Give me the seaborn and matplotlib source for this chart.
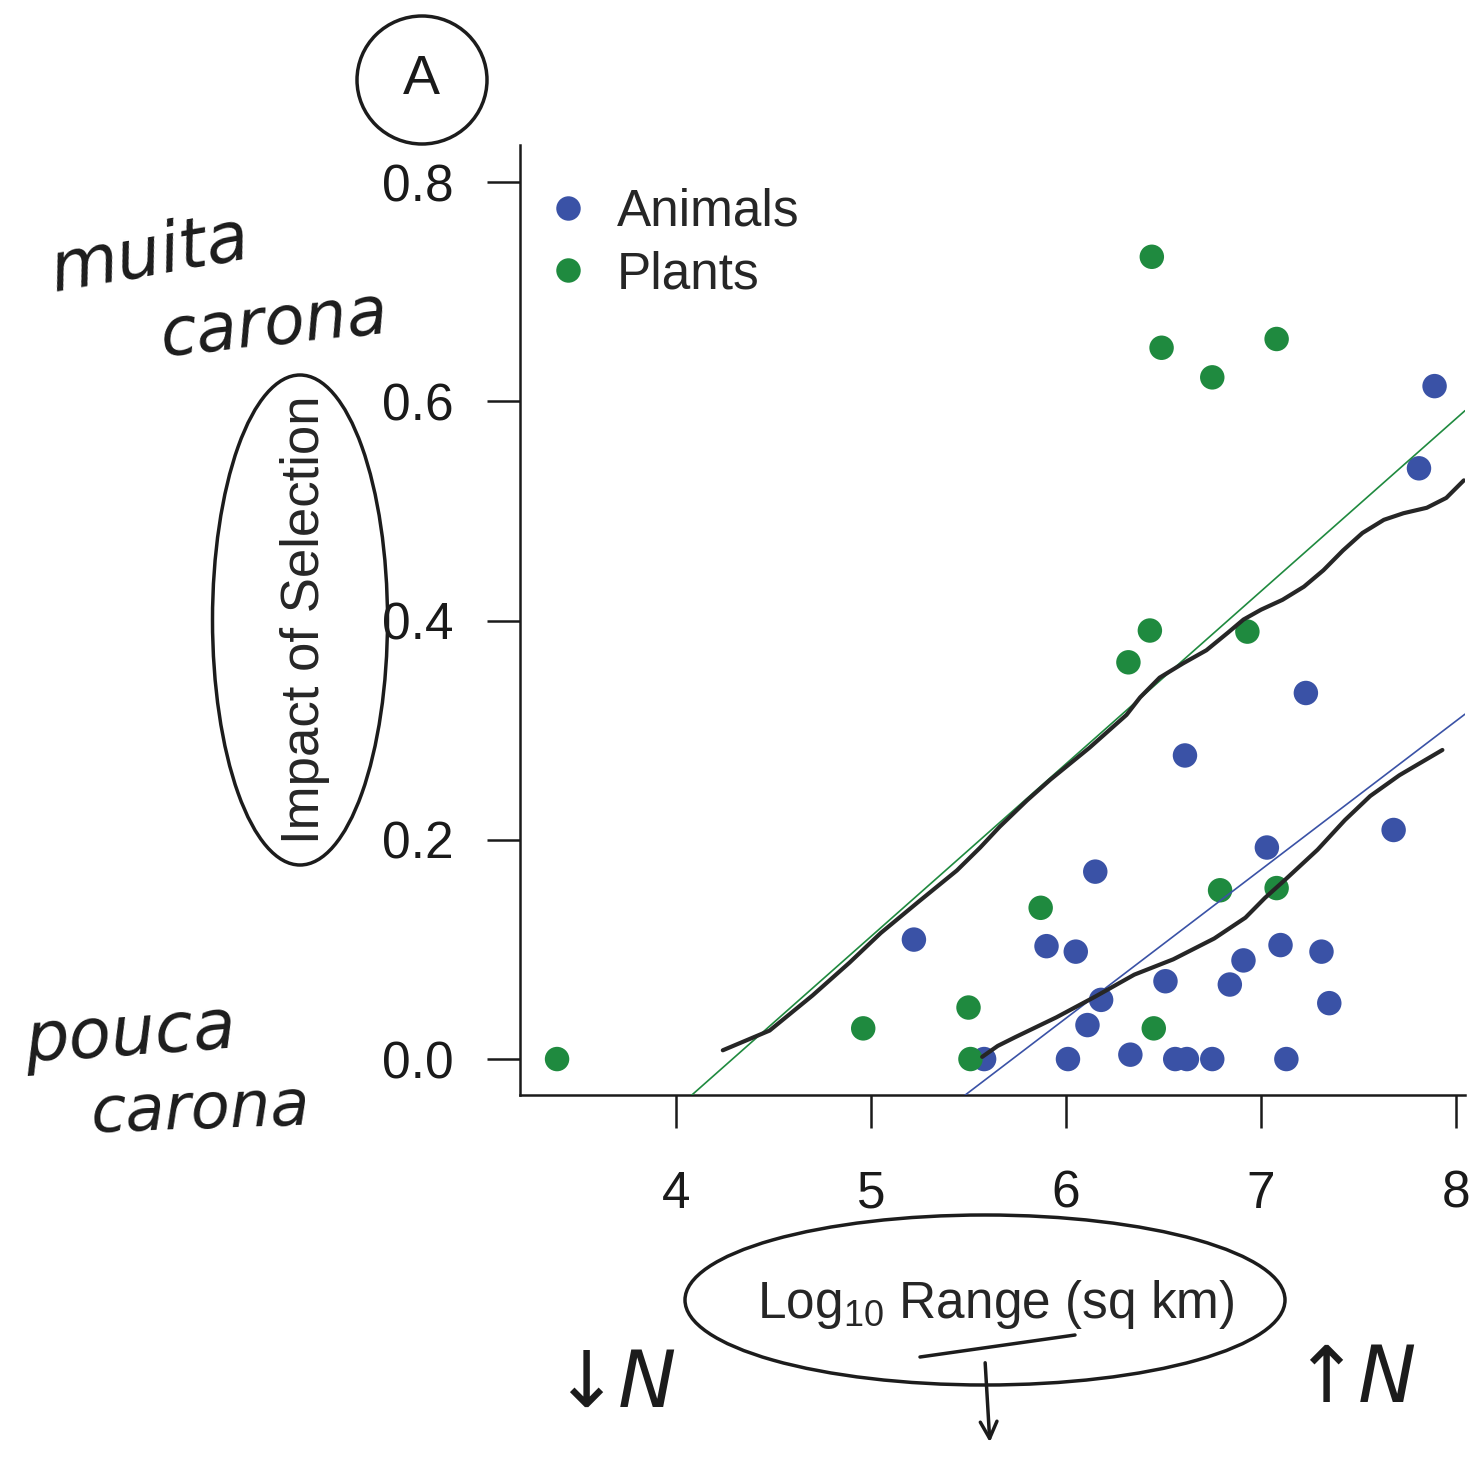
import numpy as np
import pandas as pd
import matplotlib
matplotlib.use("Agg")
import matplotlib.pyplot as plt
import seaborn as sns
from matplotlib.patches import Ellipse, FancyArrowPatch
from matplotlib.lines import Line2D

# ---------------- data ----------------
animals_x = [5.22, 5.58, 5.90, 6.05, 6.15, 6.11, 6.18, 6.01, 6.33, 6.51, 6.61, 6.56,
             6.62, 6.75, 6.84, 6.91, 7.03, 7.10, 7.13, 7.23, 7.31, 7.35, 7.68, 7.81, 7.89]
animals_y = [0.109, 0.000, 0.103, 0.098, 0.171, 0.031, 0.054, 0.000, 0.004, 0.071, 0.277, 0.000,
             0.000, 0.000, 0.068, 0.090, 0.193, 0.104, 0.000, 0.334, 0.098, 0.051, 0.209, 0.539, 0.614]
plants_x = [3.39, 4.96, 5.50, 5.51, 5.87, 6.32, 6.43, 6.44, 6.49, 6.45, 6.75, 6.79, 6.93, 7.08, 7.08]
plants_y = [0.000, 0.028, 0.047, 0.000, 0.138, 0.362, 0.391, 0.732, 0.649, 0.028, 0.622, 0.154,
            0.390, 0.657, 0.156]

# smoothed (black) curves
smooth_plants_x = [4.24, 4.48, 4.70, 4.89, 5.05, 5.24, 5.44, 5.56, 5.66, 5.80, 5.92, 6.12, 6.31,
                   6.38, 6.48, 6.60, 6.72, 6.83, 6.91, 7.00, 7.11, 7.22, 7.32, 7.42, 7.52, 7.63,
                   7.73, 7.85, 7.95, 8.04]
smooth_plants_y = [0.008, 0.026, 0.058, 0.088, 0.115, 0.143, 0.172, 0.193, 0.212, 0.236, 0.255,
                   0.284, 0.314, 0.330, 0.348, 0.361, 0.373, 0.389, 0.401, 0.410, 0.419, 0.431,
                   0.446, 0.464, 0.480, 0.492, 0.498, 0.503, 0.512, 0.528]
smooth_animals_x = [5.57, 5.65, 5.74, 5.95, 6.15, 6.35, 6.55, 6.76, 6.92, 7.02, 7.12, 7.29, 7.43,
                    7.56, 7.71, 7.93]
smooth_animals_y = [0.002, 0.012, 0.020, 0.038, 0.057, 0.077, 0.091, 0.110, 0.129, 0.147, 0.163,
                    0.191, 0.218, 0.240, 0.259, 0.282]

groups = ["Animals", "Plants"]
group_colors = ["#3A52A6", "#1F8A3F"]
x_ticks = [4, 5, 6, 7, 8]
y_ticks = [0.0, 0.2, 0.4, 0.6, 0.8]
y_tick_labels = ["0.0", "0.2", "0.4", "0.6", "0.8"]
x_label = r"Log$_{10}$ Range (sq km)"
y_label = "Impact of Selection"

df = pd.DataFrame({
    "range": animals_x + plants_x,
    "impact": animals_y + plants_y,
    "group": [groups[0]] * len(animals_x) + [groups[1]] * len(plants_x),
})
palette = dict(zip(groups, group_colors))

# ---------------- style ----------------
sns.set_style("ticks")
plt.rcParams["font.family"] = ["Liberation Sans", "DejaVu Sans"]
plt.rcParams["mathtext.fontset"] = "custom"
plt.rcParams["mathtext.rm"] = "Liberation Sans"
plt.rcParams["mathtext.default"] = "regular"

W, H = 1476, 1465
fig = plt.figure(figsize=(W / 100, H / 100), dpi=100)
ax = fig.add_axes([520 / W, 1 - 1095 / H, 945 / W, 950 / H])
ax.set_xlim(3.2, 8.046)
ax.set_ylim(-0.0328, 0.834)

# regression lines (OLS)
for g in groups:
    sub = df[df["group"] == g]
    sns.regplot(data=sub, x="range", y="impact", scatter=False, ci=None, truncate=False,
                color=palette[g], line_kws=dict(lw=1.2, zorder=3), ax=ax)

sns.scatterplot(data=df, x="range", y="impact", hue="group", hue_order=groups, palette=palette,
                s=310, linewidth=0, ax=ax, zorder=2, legend=True)

sns.lineplot(x=smooth_plants_x, y=smooth_plants_y, sort=False, estimator=None,
             color="#262626", lw=3, ax=ax, zorder=4)
sns.lineplot(x=smooth_animals_x, y=smooth_animals_y, sort=False, estimator=None,
             color="#262626", lw=3, ax=ax, zorder=4)

ax.set_xlim(3.2, 8.046)
ax.set_ylim(-0.0328, 0.834)

# axes styling (R-like)
for s in ["top", "right"]:
    ax.spines[s].set_visible(False)
for s in ["left", "bottom"]:
    ax.spines[s].set_linewidth(1.8)
    ax.spines[s].set_color("#1a1a1a")
ax.set_xticks(x_ticks)
ax.set_xticklabels([str(t) for t in x_ticks])
ax.set_yticks(y_ticks)
ax.set_yticklabels(y_tick_labels)
ax.tick_params(axis="both", direction="out", length=24, width=1.8, colors="#1a1a1a",
               labelsize=37)
ax.tick_params(axis="x", pad=30)
ax.tick_params(axis="y", pad=24)

ax.set_xlabel(x_label, fontsize=37, va="center", ha="center")
ax.xaxis.set_label_coords(0.503, -0.221)
ax.set_ylabel(y_label, fontsize=38, va="center", ha="center")
ax.yaxis.set_label_coords(-0.2275, 0.5)

# legend
handles, labels = ax.get_legend_handles_labels()
ax.legend(handles, labels, loc="upper left", bbox_to_anchor=(0.024, 0.955), frameon=False,
          fontsize=37, handlelength=1.0, handletextpad=0.45, labelspacing=0.26,
          borderpad=0, borderaxespad=0, markerscale=1.0)

# ---------------- handwritten annotations ----------------
def fx(px):
    return px / W

def fy(py):
    return 1 - py / H

hw = dict(color="#1c1c1c", fontstyle="italic", family="DejaVu Sans", ha="center", va="center")

# circled panel letter
fig.add_artist(Ellipse((fx(422), fy(80)), 130 / W, 128 / H, fill=False, lw=2.5,
                       ec="#1c1c1c", transform=fig.transFigure))
fig.text(fx(421), fy(80), "A", fontsize=40, ha="center", va="center", color="#1a1a1a")

fig.text(fx(150), fy(255), "muita", fontsize=50, rotation=10, **hw)
fig.text(fx(275), fy(325), "carona", fontsize=48, rotation=6, **hw)
fig.text(fx(130), fy(1035), "pouca", fontsize=50, rotation=4, **hw)
fig.text(fx(200), fy(1110), "carona", fontsize=46, rotation=2, **hw)

# ellipses around axis labels
fig.add_artist(Ellipse((fx(300), fy(620)), 175 / W, 490 / H, angle=0, fill=False, lw=2.5,
                       ec="#1c1c1c", transform=fig.transFigure))
fig.add_artist(Ellipse((fx(985), fy(1300)), 600 / W, 170 / H, angle=0, fill=False, lw=2.5,
                       ec="#1c1c1c", transform=fig.transFigure))

# arrows with N
fig.text(fx(615), fy(1385), "↓N", fontsize=56, **hw)
fig.text(fx(1355), fy(1380), "↑N", fontsize=56, **hw)
fig.add_artist(Line2D([fx(920), fx(1075)], [fy(1357), fy(1335)], lw=2.5, color="#1c1c1c",
                      transform=fig.transFigure))
fig.add_artist(FancyArrowPatch((fx(985), fy(1360)), (fx(990), fy(1445)),
                               transform=fig.transFigure, arrowstyle="->", mutation_scale=30,
                               lw=2.5, color="#1c1c1c"))

fig.savefig("out.png", dpi=100)
